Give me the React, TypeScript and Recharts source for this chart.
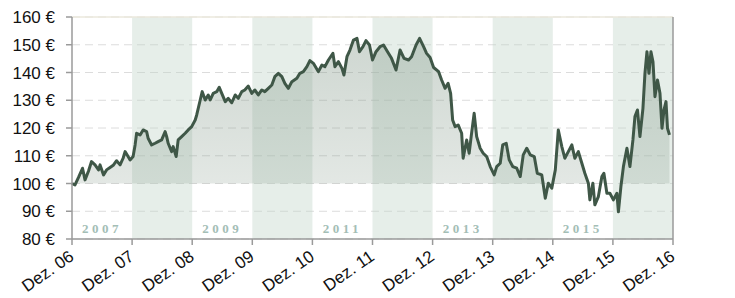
import React from 'react';
import {
  ComposedChart,
  Area,
  Line,
  XAxis,
  YAxis,
  CartesianGrid,
  ReferenceArea,
  ReferenceLine,
} from 'recharts';

// months since Dez. 06
const months = [
  0, 0.6, 1.3, 2.1, 2.6, 3.3, 3.9, 4.6, 5.3, 5.6, 6.3, 6.9, 7.6, 8.3, 8.9, 9.6, 10.2, 10.6, 11.2, 11.6,
  12.2, 12.6, 12.9, 13.6, 14.2, 14.9, 15.2, 15.9, 16.6, 17.2, 17.9, 18.6, 18.9, 19.2, 19.9, 20.2, 20.8, 21.2, 21.9, 22.6,
  23.2, 23.9, 24.6,
  24.9, 25.6, 26.0, 26.6, 27.2, 27.6, 28.2, 28.9, 29.4, 29.9, 30.6, 31.2, 31.9, 32.6, 33.2, 33.9, 34.5, 35.2, 35.9, 36.5,
  37.2, 37.9, 38.5, 39.2, 39.9, 40.5, 41.2, 41.9, 42.5, 43.2, 43.9, 44.9, 45.5, 46.2, 46.9, 47.5,
  48.2, 49.2, 49.9, 50.5, 51.2, 52.1, 52.5, 53.2, 53.9, 54.3, 54.9, 55.5, 56.2, 56.9, 57.4, 58.1, 58.7, 59.4, 60.0, 60.7,
  61.5, 62.2, 63.0, 63.8, 64.7, 65.5, 66.3, 67.2, 67.8, 68.7, 69.4, 70.2, 70.8, 71.5, 72.2, 73.2, 73.8, 74.5, 75.1, 75.6,
  76.0, 76.5, 77.1, 77.8, 78.1, 78.8, 79.3, 79.7, 80.3, 80.8, 81.5, 82.1, 82.8, 83.5, 84.3, 84.8, 85.5, 86.0, 86.7, 87.3,
  88.0, 88.8, 89.5, 90.1, 90.8, 91.5, 92.3, 92.9, 93.8, 94.5, 95.1, 95.8, 96.5, 97.1, 97.8, 98.4, 99.1, 99.8, 100.4, 101.1,
  101.8, 102.4, 103.1, 103.4, 104.0, 104.4, 105.1, 105.8, 106.2, 106.8, 107.4, 108.1, 108.8, 109.1, 109.6, 110.1, 110.8, 111.4, 112.0, 112.4,
  112.9, 113.4, 114.0, 114.4, 114.8, 115.2, 115.6, 116.0, 116.4, 116.9, 117.4, 117.8, 118.2, 118.6, 118.9, 119.3,
];

// price in EUR
const prices = [
  100, 99.5, 102.2, 105.5, 101.3, 104.5, 107.9, 106.7, 104.9, 106.7, 103.1, 104.9, 105.8, 106.7, 108.2, 106.7, 109.1, 111.5, 109.7, 108.5,
  109.7, 113.9, 118.1, 117.5, 119.3, 118.7, 116.3, 113.9, 114.5, 115.1, 115.7, 118.7, 116.9, 114.5, 111.5, 113.3, 109.7, 115.7, 116.9, 118.1,
  119.3, 120.5, 122.9,
  124.7, 130.1, 133.1, 130.1, 131.9, 130.1, 132.5, 133.1, 134.7, 132.5, 129.5, 130.7, 129.1, 131.9, 130.7, 133.1, 133.7, 135.1, 132.5, 133.7,
  131.9, 133.7, 133.1, 134.3, 135.5, 138.5, 139.7, 138.5, 136.1, 134.3, 136.7, 137.9, 139.7, 140.3, 142.1, 144.3,
  143.3, 140.3, 142.7, 142.1, 144.5, 146.9, 142.1, 143.9, 141.5, 139.1, 145.7, 148.1, 151.7, 152.3, 147.5, 149.3, 151.5, 149.9, 144.5, 147.5,
  149.3, 149.9, 147.5, 145.1, 140.9, 148.1, 145.1, 144.5, 145.7, 149.9, 152.3, 149.3, 146.9, 145.4, 141.8, 140.3, 137.3, 134.3, 136.1, 132.5,
  122.9, 120.5, 121.1, 118.1, 109.1, 115.7, 110.9, 116.9, 125.3, 116.9, 112.7, 110.9, 109.7, 106.1, 103.1, 106.1, 107.3, 113.9, 114.5, 108.5,
  106.1, 105.5, 102.5, 110.3, 112.7, 110.3, 109.7, 103.7, 103.1, 94.7, 100.1, 98.3, 104.9, 119.3, 113.3, 109.1, 111.5, 113.9, 109.1, 111.5,
  107.3, 103.7, 100.1, 94.1, 100.1, 92.3, 95.3, 102.5, 103.7, 96.5, 96.5, 94.1, 96.5, 89.8, 98.9, 106.1, 112.7, 106.1, 115.7, 124.1,
  126.5, 116.9, 127.1, 139.7, 147.5, 139.7, 147.5, 143.9, 131.3, 137.3, 132.5, 119.9, 126.5, 129.5, 119.9, 117.5,
];

const xTicks = [0, 12, 24, 36, 48, 60, 72, 84, 96, 108, 120];
const xTickLabels = ['Dez. 06', 'Dez. 07', 'Dez. 08', 'Dez. 09', 'Dez. 10', 'Dez. 11', 'Dez. 12', 'Dez. 13', 'Dez. 14', 'Dez. 15', 'Dez. 16'];
const priceTicks = [80, 90, 100, 110, 120, 130, 140, 150, 160];
const pctTicks = [-20, -10, 0, 10, 20, 30, 40, 50, 60];
const bandStarts = [12, 36, 60, 84, 108];
const yearLabels = ['2007', '2009', '2011', '2013', '2015'];
const yearLabelStarts = [0, 24, 48, 72, 96];

const FONT = '"Liberation Sans", Arial, sans-serif';

const data = months.map((m, i) => ({
  month: m,
  price: prices[i],
  above: Math.max(prices[i], 100),
}));

const XTick = ({ x, y, payload }: any) => {
  const label = xTickLabels[xTicks.indexOf(payload.value)];
  const tx = x + 3;
  const ty = y + 12;
  return (
    <text x={tx} y={ty} transform={`rotate(-35 ${tx} ${ty})`} textAnchor="end" fontSize={17} fontFamily={FONT} fill="#111">
      {label}
    </text>
  );
};

const LeftTick = ({ x, y, payload }: any) => (
  <text x={x} y={y} dy={6} textAnchor="end" fontSize={17} fontFamily={FONT} fill="#111">
    {payload.value} €
  </text>
);

const RightTick = ({ x, y, payload }: any) => (
  <text x={x} y={y} dy={6} textAnchor="start" fontSize={17} fontFamily={FONT} fill="#111">
    {payload.value}%
  </text>
);

export default function App() {
  return (
    <div style={{ position: 'absolute', left: 0, top: 0, background: '#fff' }}>
      <ComposedChart width={735} height={298} data={data} margin={{ top: 17, right: 0, bottom: 0, left: 0 }}>
        <defs>
          <linearGradient id="areaFill" x1="0" y1="0" x2="0" y2="1">
            <stop offset="0%" stopColor="#7f9585" stopOpacity={0.38} />
            <stop offset="100%" stopColor="#7f9585" stopOpacity={0.22} />
          </linearGradient>
        </defs>
        {bandStarts.map((s) => (
          <ReferenceArea key={s} yAxisId="left" x1={s} x2={s + 12} y1={80} y2={160} fill="#c0d4c7" fillOpacity={0.4} stroke="none" />
        ))}
        {yearLabelStarts.map((s, i) => (
          <ReferenceArea
            key={`lbl-${s}`}
            yAxisId="left"
            x1={s}
            x2={s + 12}
            y1={80}
            y2={90}
            fill="none"
            stroke="none"
            label={{
              value: yearLabels[i],
              position: 'insideBottom',
              offset: 6,
              fill: '#a4beb6',
              fontSize: 13,
              fontWeight: 'bold',
              fontFamily: '"Liberation Serif", "DejaVu Serif", serif',
              letterSpacing: 3.5,
            }}
          />
        ))}
        <CartesianGrid yAxisId="left" horizontal vertical={false} stroke="#dcdcdc" strokeDasharray="8 5" />
        <ReferenceLine yAxisId="left" y={160} stroke="#ebe8dc" strokeWidth={1.5} />
        <XAxis
          dataKey="month"
          type="number"
          domain={[0, 120]}
          ticks={xTicks}
          height={59}
          stroke="#9a9a9a"
          strokeWidth={1.5}
          tickSize={6}
          tick={<XTick />}
          interval={0}
        />
        <YAxis
          yAxisId="left"
          type="number"
          domain={[80, 160]}
          ticks={priceTicks}
          width={72}
          stroke="#9a9a9a"
          strokeWidth={1.5}
          tickSize={6}
          tickMargin={11}
          tick={<LeftTick />}
          interval={0}
        />
        <YAxis
          yAxisId="right"
          orientation="right"
          type="number"
          domain={[-20, 60]}
          ticks={pctTicks}
          width={62}
          stroke="#9a9a9a"
          strokeWidth={1.5}
          tickSize={6}
          tickMargin={12}
          tick={<RightTick />}
          interval={0}
        />
        <Area
          yAxisId="left"
          dataKey="above"
          type="linear"
          baseValue={100}
          stroke="none"
          fill="url(#areaFill)"
          fillOpacity={1}
          isAnimationActive={false}
        />
        <Line
          yAxisId="left"
          dataKey="price"
          type="linear"
          stroke="#3f5747"
          strokeWidth={3}
          strokeLinejoin="round"
          dot={false}
          activeDot={false}
          isAnimationActive={false}
        />
      </ComposedChart>
    </div>
  );
}
